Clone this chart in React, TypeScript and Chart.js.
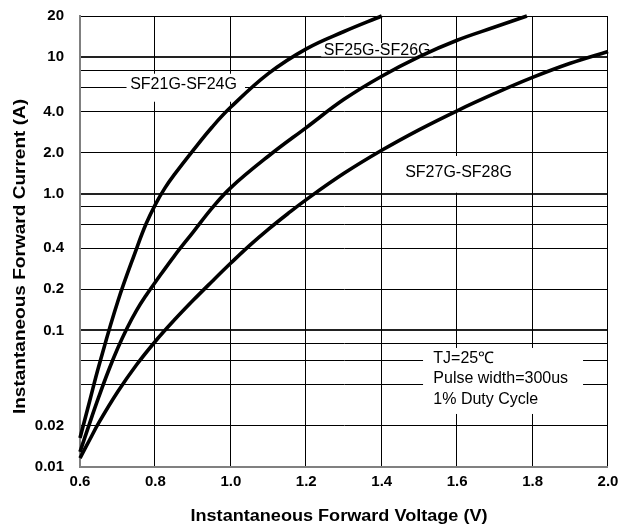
import React, { useEffect, useRef } from "react";
import { Chart, registerables } from "chart.js";

Chart.register(...registerables);

// ---- axis ticks ----
const xTickValues = [0.6, 0.8, 1.0, 1.2, 1.4, 1.6, 1.8, 2.0];
const xTickLabels = ["0.6", "0.8", "1.0", "1.2", "1.4", "1.6", "1.8", "2.0"];
const yTickValues = [0.01, 0.02, 0.04, 0.06, 0.08, 0.1, 0.2, 0.4, 0.6, 0.8, 1, 2, 4, 6, 8, 10, 20];
const yTickLabels = ["0.01", "0.02", "", "", "", "0.1", "0.2", "0.4", "", "", "1.0", "2.0", "4.0", "", "", "10", "20"];
const yDecades = [0.1, 1, 10];

// ---- series ----
const seriesNames = ["SF21G-SF24G", "SF25G-SF26G", "SF27G-SF28G"];

const sf21Voltage = [0.6, 0.625, 0.65, 0.7, 0.75, 0.775, 0.8, 0.825, 0.85, 0.9, 0.95, 1.0, 1.1, 1.2, 1.3, 1.4];
const sf21Current = [0.0163, 0.0299, 0.0549, 0.162, 0.397, 0.6, 0.837, 1.1, 1.38, 2.08, 3.07, 4.31, 7.6, 11.5, 15.4, 20];

const sf25Voltage = [0.6, 0.625, 0.65, 0.675, 0.7, 0.725, 0.75, 0.775, 0.8, 0.85, 0.9, 0.95, 1.0, 1.1, 1.2, 1.3, 1.4, 1.5, 1.6, 1.7, 1.785];
const sf25Current = [0.0129, 0.0207, 0.0327, 0.0502, 0.0739, 0.104, 0.14, 0.18, 0.226, 0.35, 0.524, 0.785, 1.11, 1.89, 3.05, 4.91, 7.25, 10.1, 13.3, 16.6, 20];

const sf27Voltage = [0.6, 0.625, 0.65, 0.7, 0.75, 0.8, 0.85, 0.9, 0.95, 1.0, 1.05, 1.1, 1.15, 1.2, 1.3, 1.4, 1.5, 1.6, 1.7, 1.8, 1.9, 2.0];
const sf27Current = [0.0116, 0.0157, 0.0211, 0.0355, 0.056, 0.0833, 0.119, 0.166, 0.228, 0.311, 0.419, 0.551, 0.711, 0.906, 1.41, 2.08, 2.95, 4.05, 5.42, 7.1, 9.01, 11.0];

// ---- texts ----
const xTitle = "Instantaneous Forward Voltage (V)";
const yTitle = "Instantaneous Forward Current (A)";
const noteLines = ["TJ=25\u2103", "Pulse width=300us", "1% Duty Cycle"];

// ---- annotation placement (data coords + pixel box offsets) ----
const seriesLabelSpots = [
  { x: 0.8745, y: 6.28, box: [-57, -11, 61.5, 17] },
  { x: 1.388, y: 11.08, box: [-56, -8, 56, 5.5] },
  { x: 1.6036, y: 1.426, box: [-56, -16.7, 56, 20] },
];
const noteSpot = { x: 1.5369, y: 0.0625, gaps: [0, 20, 41.7], box: [-10.3, -10.3, 149.7, 55.7] };

const FONT = "'Liberation Sans', Arial, Helvetica, sans-serif";

// vertical grid lines + bottom frame edge, placed through the x scale
const xGridPlugin = {
  id: "xGridLines",
  beforeDatasetsDraw(chart: any) {
    const { ctx, chartArea } = chart;
    const xs = chart.scales.x;
    ctx.save();
    ctx.strokeStyle = "#000000";
    ctx.lineWidth = 1;
    xTickValues.forEach((v, i) => {
      if (i === 0) return;
      const px = Math.round(xs.getPixelForValue(v)) - 0.5;
      ctx.beginPath();
      ctx.moveTo(px, chartArea.top);
      ctx.lineTo(px, chartArea.bottom);
      ctx.stroke();
    });
    ctx.strokeStyle = "#808080";
    ctx.lineWidth = 2;
    ctx.beginPath();
    ctx.moveTo(chartArea.left - 1, Math.round(chartArea.bottom));
    ctx.lineTo(chartArea.right, Math.round(chartArea.bottom));
    ctx.stroke();
    ctx.restore();
  },
};

const annotationPlugin = {
  id: "curveAnnotations",
  beforeDatasetsDraw(chart: any) {
    const { ctx } = chart;
    const xs = chart.scales.x;
    const ys = chart.scales.y;
    ctx.save();
    ctx.font = `16px ${FONT}`;
    seriesLabelSpots.forEach((s, i) => {
      const px = xs.getPixelForValue(s.x);
      const py = ys.getPixelForValue(s.y);
      const [l, t, r, b] = s.box;
      ctx.fillStyle = "#ffffff";
      ctx.fillRect(px + l, py + t, r - l, b - t);
      ctx.fillStyle = "#000000";
      ctx.textAlign = "center";
      ctx.textBaseline = "middle";
      ctx.fillText(seriesNames[i], px, py);
    });
    const nx = xs.getPixelForValue(noteSpot.x);
    const ny = ys.getPixelForValue(noteSpot.y);
    const [l, t, r, b] = noteSpot.box;
    ctx.fillStyle = "#ffffff";
    ctx.fillRect(nx + l, ny + t, r - l, b - t);
    ctx.fillStyle = "#000000";
    ctx.textAlign = "left";
    ctx.textBaseline = "middle";
    noteLines.forEach((line, i) => ctx.fillText(line, nx, ny + noteSpot.gaps[i]));
    ctx.restore();
  },
};

const axisTitlePlugin = {
  id: "axisTitles",
  afterDraw(chart: any) {
    const { ctx } = chart;
    ctx.save();
    ctx.fillStyle = "#000000";
    ctx.font = `bold 16px ${FONT}`;
    ctx.textAlign = "center";
    ctx.textBaseline = "alphabetic";
    ctx.save();
    ctx.translate(339, 521);
    ctx.scale(1.13, 1);
    ctx.fillText(xTitle, 0, 0);
    ctx.restore();
    ctx.save();
    ctx.translate(24.5, 256.5);
    ctx.rotate(-Math.PI / 2);
    ctx.scale(1.19, 1);
    ctx.fillText(yTitle, 0, 0);
    ctx.restore();
    ctx.restore();
  },
};

function toPoints(xv: number[], yv: number[]) {
  return xv.map((v, i) => ({ x: v, y: yv[i] }));
}

export default function App() {
  const ref = useRef<HTMLCanvasElement>(null);
  useEffect(() => {
    document.body.style.margin = "0";
    const curveStyle = {
      showLine: true,
      borderColor: "#000000",
      backgroundColor: "#000000",
      borderWidth: 3.6,
      pointRadius: 0,
      tension: 0.4,
      borderJoinStyle: "round" as const,
      clip: false as any,
    };
    const chart = new Chart(ref.current as HTMLCanvasElement, {
      type: "scatter",
      data: {
        datasets: [
          { label: seriesNames[0], data: toPoints(sf21Voltage, sf21Current), ...curveStyle },
          { label: seriesNames[1], data: toPoints(sf25Voltage, sf25Current), ...curveStyle },
          { label: seriesNames[2], data: toPoints(sf27Voltage, sf27Current), ...curveStyle },
        ],
      },
      options: {
        responsive: false,
        animation: false,
        events: [],
        layout: { padding: { top: 16, right: 10, bottom: 0, left: 0 } },
        plugins: { legend: { display: false }, tooltip: { enabled: false } },
        scales: {
          x: {
            type: "linear",
            position: "bottom",
            min: 0.6,
            max: 2.0,
            afterFit: (scale: any) => {
              scale.height = 60;
              scale.paddingLeft = 0;
              scale.paddingRight = 0;
            },
            afterBuildTicks: (scale: any) => {
              scale.ticks = xTickValues.map((v) => ({ value: v }));
            },
            ticks: {
              autoSkip: false,
              maxRotation: 0,
              padding: 6,
              color: "#000000",
              font: { family: FONT, size: 15, weight: "bold" },
              callback: (_v: any, i: number) => xTickLabels[i],
            },
            grid: { display: false, drawTicks: false },
            border: { display: false },
          },
          y: {
            type: "logarithmic",
            position: "left",
            min: 0.01,
            max: 20,
            afterFit: (scale: any) => {
              scale.width = 80;
              scale.paddingTop = 0;
              scale.paddingBottom = 0;
            },
            afterBuildTicks: (scale: any) => {
              scale.ticks = yTickValues.map((v) => ({ value: v }));
            },
            ticks: {
              autoSkip: false,
              padding: 16,
              color: "#000000",
              font: { family: FONT, size: 15, weight: "bold" },
              callback: (_v: any, i: number) => yTickLabels[i],
            },
            grid: {
              drawTicks: false,
              color: (c: any) => {
                const v = c.tick ? c.tick.value : null;
                if (v === 0.01) return "rgba(0,0,0,0)";
                if (yDecades.includes(v)) return "#222222";
                return "#000000";
              },
              lineWidth: (c: any) => (c.tick && yDecades.includes(c.tick.value) ? 2 : 1),
            },
            border: { display: true, color: "#808080", width: 2 },
          },
        },
      },
      plugins: [xGridPlugin, annotationPlugin, axisTitlePlugin],
    });
    return () => chart.destroy();
  }, []);
  return (
    <div style={{ width: 618, height: 527 }}>
      <canvas ref={ref} width={618} height={527} style={{ display: "block" }} />
    </div>
  );
}
